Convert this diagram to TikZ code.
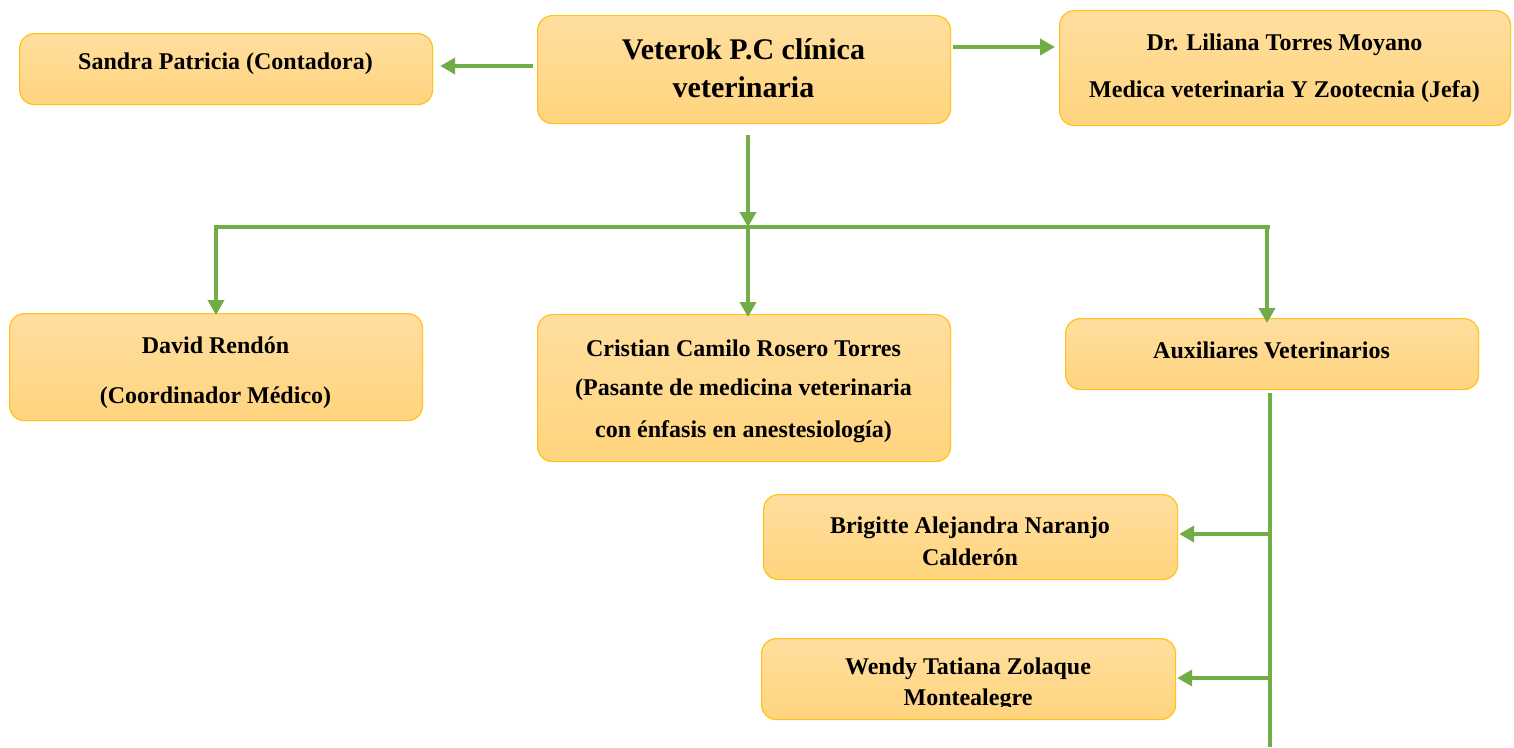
\documentclass[tikz,border=0pt]{standalone}
\usepackage{fontspec}
\setmainfont{Liberation Serif}
\usetikzlibrary{arrows.meta}
\definecolor{conn}{HTML}{70AD47}
\definecolor{boxtop}{HTML}{FFDE9E}
\definecolor{boxbot}{HTML}{FFD47E}
\definecolor{boxline}{HTML}{FFC21A}
\tikzset{
  orgbox/.style={draw=boxline, line width=1.2pt, rounded corners=15pt, top color=boxtop, bottom color=boxbot, anchor=north west, inner sep=0pt},
  lbl/.style={font=\bfseries\fontsize{24}{28}\selectfont, align=center},
  conline/.style={draw=conn, line width=3.8pt},
  conarrow/.style={draw=conn, line width=3.8pt, -{Triangle[length=15pt,width=16pt]}},
}
\begin{document}
\begin{tikzpicture}[x=1pt,y=-1pt]
\useasboundingbox (0,0) rectangle (1514,747);
% boxes
\node[orgbox, minimum width=413pt, minimum height=71pt] (sandra) at (19,33) {};
\node[orgbox, minimum width=413pt, minimum height=108pt] (vet) at (537,15) {};
\node[orgbox, minimum width=451pt, minimum height=115pt] (lil) at (1059,10) {};
\node[orgbox, minimum width=413pt, minimum height=107pt] (david) at (9,313) {};
\node[orgbox, minimum width=413pt, minimum height=147pt] (cris) at (537,314) {};
\node[orgbox, minimum width=413pt, minimum height=71pt] (aux) at (1065,318) {};
\node[orgbox, minimum width=414pt, minimum height=85pt] (brig) at (763,494) {};
\node[orgbox, minimum width=414pt, minimum height=81pt] (wendy) at (761,638) {};
% texts
\node[lbl] (tsandra) at (225.5,64) {Sandra Patricia (Contadora)};
\node[lbl, font=\bfseries\fontsize{30}{38}\selectfont] (tvet) at (743.5,68) {Veterok P.C clínica\\veterinaria};
\node[lbl] (tlil1) at (1284.5,45) {Dr. Liliana Torres Moyano};
\node[lbl] (tlil2) at (1284.5,92) {Medica veterinaria Y Zootecnia (Jefa)};
\node[lbl] (tdav1) at (215.5,345) {David Rendón};
\node[lbl] (tdav2) at (215.5,398) {(Coordinador Médico)};
\node[lbl] (tcr1) at (743.5,348) {Cristian Camilo Rosero Torres};
\node[lbl] (tcr2) at (743.5,390) {(Pasante de medicina veterinaria};
\node[lbl] (tcr3) at (743.5,432) {con énfasis en anestesiología)};
\node[lbl] (taux) at (1271.5,350) {Auxiliares Veterinarios};
\node[lbl, font=\bfseries\fontsize{24}{32}\selectfont] (tbrig) at (970,541) {Brigitte Alejandra Naranjo\\Calderón};
\begin{scope}
\clip (761,638) rectangle (1175,706.5);
\node[lbl, font=\bfseries\fontsize{24}{31}\selectfont] (twen) at (968,684.5) {Wendy Tatiana Zolaque\\Montealegre};
\end{scope}
% connectors
\coordinate (vl) at (533,66);
\coordinate (vr) at (953,47);
\coordinate (vb) at (748,135);
\coordinate (bus) at (748,227);
\coordinate (busl) at (216,227);
\coordinate (busr) at (1270,227);
\coordinate (busr2) at (1267,227);
\coordinate (auxb) at (1270,393);
\coordinate (auxe) at (1270,747);
\coordinate (jb) at (1270,534);
\coordinate (jw) at (1270,678);
\draw[conarrow] (vl) -- ([xshift=7pt]sandra.east |- vl);
\draw[conarrow] (vr) -- ([xshift=-4pt]lil.west |- vr);
\draw[conarrow] (vb) -- (bus);
\draw[conline] ([xshift=-1.9pt]busl) -- (busr);
\draw[conarrow] (busl) -- ([yshift=-2pt]david.north -| busl);
\draw[conarrow] (bus) -- ([yshift=-3pt]cris.north -| bus);
\draw[conarrow] (busr2) -- ([yshift=-5pt]aux.north -| busr2);
\draw[conline] (auxb) -- (auxe);
\draw[conarrow] (jb) -- ([xshift=1pt]brig.east |- jb);
\draw[conarrow] (jw) -- ([xshift=1pt]wendy.east |- jw);
\end{tikzpicture}
\end{document}
